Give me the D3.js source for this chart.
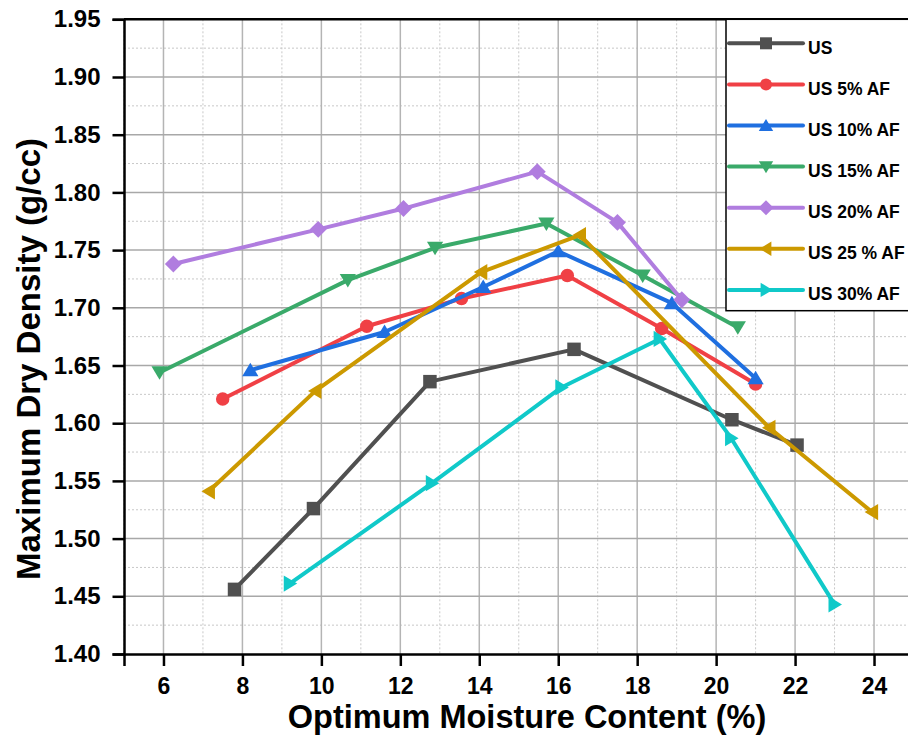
<!DOCTYPE html>
<html>
<head>
<meta charset="utf-8">
<script src="https://cdn.jsdelivr.net/npm/d3@7"></script>
<style>
  html, body { margin: 0; padding: 0; background: #fff; }
  svg { display: block; font-family: Arial, "Liberation Sans", sans-serif; }
</style>
</head>
<body>
<svg id="chart" width="908" height="740"></svg>
<script>
// Moisture content (%) and dry density (g/cc) for each mix
const seriesNames = ["US", "US 5% AF", "US 10% AF", "US 15% AF", "US 20% AF", "US 25 % AF", "US 30% AF"];
const usMC     = [7.8, 9.8, 12.75, 16.4, 20.4, 22.05];
const usMDD    = [1.456, 1.526, 1.636, 1.664, 1.603, 1.581];
const af5MC    = [7.5, 11.15, 13.55, 16.23, 18.62, 21.0];
const af5MDD   = [1.621, 1.684, 1.708, 1.728, 1.682, 1.634];
const af10MC   = [8.2, 11.6, 14.1, 16.0, 18.88, 21.0];
const af10MDD  = [1.646, 1.679, 1.718, 1.749, 1.704, 1.639];
const af15MC   = [5.9, 10.67, 12.88, 15.7, 18.14, 20.55];
const af15MDD  = [1.644, 1.724, 1.752, 1.773, 1.728, 1.683];
const af20MC   = [6.25, 9.92, 12.08, 15.47, 17.5, 19.13];
const af20MDD  = [1.738, 1.768, 1.786, 1.818, 1.774, 1.707];
const af25MC   = [7.15, 9.85, 14.05, 16.55, 21.35, 23.95];
const af25MDD  = [1.541, 1.628, 1.731, 1.763, 1.596, 1.523];
const af30MC   = [9.2, 12.8, 16.08, 18.57, 20.38, 23.0];
const af30MDD  = [1.461, 1.548, 1.631, 1.673, 1.587, 1.443];

const xTicks = [6, 8, 10, 12, 14, 16, 18, 20, 22, 24];
const yTicks = [1.40, 1.45, 1.50, 1.55, 1.60, 1.65, 1.70, 1.75, 1.80, 1.85, 1.90, 1.95];

const colors = ["#505050", "#f04045", "#1f6fe0", "#3aaa6a", "#b07ddf", "#cc9900", "#10c9c9"];
const symbols = ["square", "circle", "triUp", "triDown", "diamond", "triLeft", "triRight"];

const mcs  = [usMC, af5MC, af10MC, af15MC, af20MC, af25MC, af30MC];
const mdds = [usMDD, af5MDD, af10MDD, af15MDD, af20MDD, af25MDD, af30MDD];
const series = seriesNames.map((name, i) => ({
  name, color: colors[i], symbol: symbols[i],
  points: mcs[i].map((x, j) => ({ x, y: mdds[i][j] }))
}));

const svg = d3.select("#chart");
const plotLeft = 124, plotRight = 913.5, plotTop = 19.3, plotBottom = 654;

const x = d3.scaleLinear().domain([5, 25]).range([plotLeft, plotRight]);
const y = d3.scaleLinear().domain([1.40, 1.95]).range([plotBottom, plotTop]);

// Grid: minor dotted lines at half steps, major solid lines at ticks
const grid = svg.append("g");
const minorX = d3.range(5, 25.01, 1).filter(v => v % 2 === 1);
const minorY = d3.range(0, 11).map(i => 1.425 + i * 0.05);
grid.selectAll(".mx").data(minorX).join("line")
  .attr("x1", d => x(d)).attr("x2", d => x(d)).attr("y1", plotTop).attr("y2", plotBottom)
  .attr("stroke", "#c8c8c8").attr("stroke-width", 1).attr("stroke-dasharray", "2,2");
grid.selectAll(".my").data(minorY).join("line")
  .attr("x1", plotLeft).attr("x2", plotRight).attr("y1", d => y(d)).attr("y2", d => y(d))
  .attr("stroke", "#c8c8c8").attr("stroke-width", 1).attr("stroke-dasharray", "2,2");
grid.selectAll(".gx").data(xTicks).join("line")
  .attr("x1", d => x(d)).attr("x2", d => x(d)).attr("y1", plotTop).attr("y2", plotBottom)
  .attr("stroke", "#b4b4b4").attr("stroke-width", 1.5);
grid.selectAll(".gy").data(yTicks.slice(1, -1)).join("line")
  .attr("x1", plotLeft).attr("x2", plotRight).attr("y1", d => y(d)).attr("y2", d => y(d))
  .attr("stroke", "#a8a8a8").attr("stroke-width", 1.5);

// Marker shapes (s = nominal size in px)
function markerPath(sym, s) {
  const h = s / 2;
  switch (sym) {
    case "square": return `M${-h},${-h}H${h}V${h}H${-h}Z`;
    case "circle": return d3.symbol(d3.symbolCircle, Math.PI * h * h)();
    case "triUp": return `M0,${-h * 1.1}L${h * 1.2},${h * 0.9}L${-h * 1.2},${h * 0.9}Z`;
    case "triDown": return `M0,${h * 1.1}L${h * 1.2},${-h * 0.9}L${-h * 1.2},${-h * 0.9}Z`;
    case "triLeft": return `M${-h * 1.1},0L${h * 0.9},${-h * 1.2}L${h * 0.9},${h * 1.2}Z`;
    case "triRight": return `M${h * 1.1},0L${-h * 0.9},${-h * 1.2}L${-h * 0.9},${h * 1.2}Z`;
    case "diamond": return `M0,${-h * 1.25}L${h * 1.25},0L0,${h * 1.25}L${-h * 1.25},0Z`;
  }
}

const line = d3.line().x(d => x(d.x)).y(d => y(d.y));
const plot = svg.append("g");
series.forEach(s => {
  const g = plot.append("g");
  g.append("path").datum(s.points).attr("d", line)
    .attr("fill", "none").attr("stroke", s.color).attr("stroke-width", 4)
    .attr("stroke-linejoin", "round").attr("stroke-linecap", "round");
  g.selectAll("path.m").data(s.points).join("path").attr("class", "m")
    .attr("transform", d => `translate(${x(d.x)},${y(d.y)})`)
    .attr("d", markerPath(s.symbol, 13.5)).attr("fill", s.color);
});

// Frame
svg.append("line").attr("x1", plotLeft).attr("x2", 908).attr("y1", plotTop).attr("y2", plotTop)
  .attr("stroke", "#000").attr("stroke-width", 2.5);

// Axes
const xAxis = svg.append("g").attr("transform", `translate(0,${plotBottom})`)
  .call(d3.axisBottom(x).tickValues(xTicks).tickSize(12).tickPadding(12).tickFormat(d3.format("d")));
const yAxis = svg.append("g").attr("transform", `translate(${plotLeft},0)`)
  .call(d3.axisLeft(y).tickValues(yTicks).tickSize(11.5).tickPadding(12).tickFormat(d3.format(".2f")));
[xAxis, yAxis].forEach(a => {
  a.select(".domain").attr("stroke", "#000").attr("stroke-width", 2.5);
  a.selectAll(".tick line").attr("stroke", "#000").attr("stroke-width", 2.5);
  a.selectAll(".tick text").attr("fill", "#000").attr("font-size", 24).attr("font-weight", "bold")
    .attr("font-family", "Arial, 'Liberation Sans', sans-serif");
});
xAxis.selectAll(".tick text").attr("font-size", 23);

// Axis titles
svg.append("text").attr("x", 527).attr("y", 728).attr("text-anchor", "middle")
  .attr("font-size", 32.5).attr("font-weight", "bold").attr("fill", "#000")
  .text("Optimum Moisture Content (%)");
svg.append("text").attr("transform", "translate(40,359) rotate(-90)")
  .attr("text-anchor", "middle").attr("font-size", 33).attr("font-weight", "bold").attr("fill", "#000")
  .text("Maximum Dry Density (g/cc)");

// Legend
const legend = svg.append("g");
legend.append("rect").attr("x", 726).attr("y", plotTop).attr("width", 200).attr("height", 310.7 - plotTop)
  .attr("fill", "#fff").attr("stroke", "#000").attr("stroke-width", 1.5);
series.forEach((s, i) => {
  const ly = 43.3 + i * 41.1;
  legend.append("line").attr("x1", 729).attr("x2", 803).attr("y1", ly).attr("y2", ly)
    .attr("stroke", s.color).attr("stroke-width", 4).attr("stroke-linecap", "round");
  legend.append("path").attr("transform", `translate(766,${ly})`)
    .attr("d", markerPath(s.symbol, 12)).attr("fill", s.color);
  legend.append("text").attr("x", 808).attr("y", ly + 10.5).attr("font-size", 17.5)
    .attr("font-weight", "bold").attr("fill", "#000").text(s.name);
});
</script>
</body>
</html>
